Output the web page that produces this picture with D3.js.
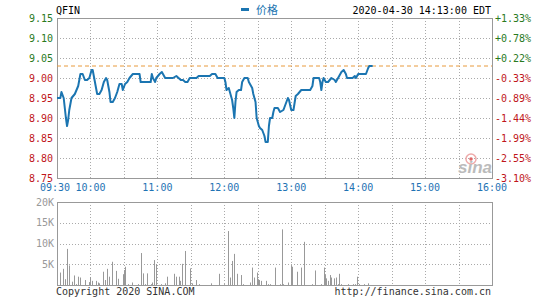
<!DOCTYPE html>
<html>
<head>
<meta charset="utf-8">
<script src="https://cdn.jsdelivr.net/npm/d3@7/dist/d3.min.js"></script>
<style>
  body { margin: 0; background: #fff; }
  text { font-family: "DejaVu Sans Mono", "Liberation Mono", monospace; font-size: 10px; }
  .grid line { stroke: #aaa; stroke-dasharray: 1,2; }
</style>
</head>
<body>
<script>
// ---- data ----
var symbol = "QFIN";
var stamp = "2020-04-30 14:13:00 EDT";
var prevClose = 9.03;
var priceTicks = [9.15, 9.10, 9.05, 9.00, 8.95, 8.90, 8.85, 8.80, 8.75];
var pctLabels = ["+1.33%", "+0.78%", "+0.22%", "-0.33%", "-0.89%", "-1.44%", "-1.99%", "-2.55%", "-3.10%"];
var timeTicks = [0, 30, 90, 150, 210, 270, 330, 390];
var timeLabels = ["09:30", "10:00", "11:00", "12:00", "13:00", "14:00", "15:00", "16:00"];
var volTicks = [20000, 15000, 10000, 5000];
var volLabels = ["20K", "15K", "10K", "5K"];

// minutes after 09:30 and price
var priceMin = [0,3,4,6,8,9,10,11,13,16,19,21,23,25,27,29,31,32,33,35,36,38,40,42,44,45,47,48,50,52,54,56,58,59,61,63,65,68,72,74,75,80,84,85,86,88,89,92,94,96,97,104,107,109,111,113,115,117,119,125,127,137,139,142,144,150,151,152,154,155,157,158,159,160,161,163,165,166,168,171,172,175,176,178,179,181,182,184,186,187,189,190,191,193,194,195,198,200,203,205,207,208,210,212,214,216,219,227,229,230,235,236,237,238,239,241,243,246,249,250,252,255,257,259,260,265,267,268,270,277,279,280,283];
var priceVal = [8.95,8.95,8.965,8.95,8.90,8.88,8.895,8.92,8.95,8.96,8.98,9.01,9.01,8.995,8.995,9.00,9.02,9.02,9.005,8.975,8.96,8.96,8.97,8.99,9.00,8.995,8.965,8.94,8.94,8.95,8.965,8.985,8.985,8.97,8.985,8.99,9.00,9.01,9.01,9.01,8.99,8.99,8.99,9.01,9.00,8.99,9.00,9.01,9.015,9.005,9.00,9.00,9.005,9.00,8.995,8.995,8.99,8.99,9.00,9.00,9.005,9.005,9.01,9.01,9.00,9.00,8.99,8.97,8.975,8.965,8.945,8.925,8.90,8.94,8.965,8.97,8.97,8.99,9.00,9.00,8.99,8.975,8.96,8.94,8.90,8.88,8.875,8.87,8.855,8.84,8.84,8.88,8.90,8.90,8.915,8.925,8.925,8.915,8.92,8.935,8.95,8.945,8.92,8.92,8.955,8.96,8.97,8.97,8.98,9.00,9.00,8.99,8.97,8.99,9.00,8.99,8.99,9.00,8.995,8.99,9.00,9.015,9.02,9.01,9.00,9.00,9.005,9.00,9.01,9.01,9.025,9.03,9.03];

var volMin = [0,3,5,7,9,11,13,15,17,19,21,25,29,30,31,35,37,38,41,43,45,47,49,53,55,59,60,61,64,67,73,75,77,79,81,84,85,87,89,93,97,99,105,107,109,110,112,115,119,121,125,127,138,145,150,153,155,157,159,161,165,167,173,175,177,179,180,181,183,187,189,191,195,200,202,203,207,210,211,215,219,221,229,231,237,239,240,241,243,245,246,248,250,252,253,255,261,265,267,269,271,275,279];
var volVal = [4200,3000,3900,1400,8700,4700,800,2300,200,2000,1800,1200,700,1900,1000,1000,600,400,3200,1200,3900,2000,5600,3400,1500,2600,3600,4400,200,600,200,7700,2800,200,2800,200,600,6000,5000,200,400,2000,2700,2000,2000,1000,5100,8200,4000,400,1200,200,400,2700,200,13000,1800,5800,7500,2700,2400,200,600,4200,1800,3000,1400,1200,1000,1000,200,200,4200,200,13400,200,600,4700,4400,3200,4200,10400,200,3500,200,4200,2400,1600,1000,2400,1800,1600,1800,200,2700,200,200,200,200,2000,200,200,400];

// ---- layout ----
var W = 545, H = 300;
var left = 57, right = 492;
var pTop = 18, pBot = 178;
var vTop = 202, vBot = 285;

var svg = d3.select("body").append("svg")
    .attr("width", W)
    .attr("height", H);

var x = d3.scaleLinear().domain([0, 390]).range([left, right]);
var y = d3.scaleLinear().domain([8.75, 9.15]).range([pBot, pTop]);
var yv = d3.scaleLinear().domain([0, 20000]).range([vBot, vTop]);

var halfHours = d3.range(30, 390, 30);

// price grid
var g1 = svg.append("g").attr("class", "grid");
g1.selectAll(".vx").data(halfHours).enter().append("line")
    .attr("x1", function(d) { return Math.round(x(d)) + 0.5; })
    .attr("x2", function(d) { return Math.round(x(d)) + 0.5; })
    .attr("y1", pTop).attr("y2", pBot);
g1.selectAll(".hy").data(priceTicks.slice(1, -1)).enter().append("line")
    .attr("x1", left).attr("x2", right)
    .attr("y1", function(d) { return Math.round(y(d)) + 0.5; })
    .attr("y2", function(d) { return Math.round(y(d)) + 0.5; });

// volume grid
var g2 = svg.append("g").attr("class", "grid");
g2.selectAll(".vx").data(halfHours).enter().append("line")
    .attr("x1", function(d) { return Math.round(x(d)) + 0.5; })
    .attr("x2", function(d) { return Math.round(x(d)) + 0.5; })
    .attr("y1", vTop).attr("y2", vBot);
g2.selectAll(".hy").data(volTicks.slice(1)).enter().append("line")
    .attr("x1", left).attr("x2", right)
    .attr("y1", function(d) { return Math.round(yv(d)) + 0.5; })
    .attr("y2", function(d) { return Math.round(yv(d)) + 0.5; });

// frames
svg.append("rect").attr("x", left + 0.5).attr("y", pTop + 0.5)
    .attr("width", right - left).attr("height", pBot - pTop)
    .attr("fill", "none").attr("stroke", "#999");
svg.append("rect").attr("x", left + 0.5).attr("y", vTop + 0.5)
    .attr("width", right - left).attr("height", vBot - vTop)
    .attr("fill", "none").attr("stroke", "#999");

// watermark
svg.append("circle").attr("cx", 471).attr("cy", 159).attr("r", 5)
    .attr("fill", "none").attr("stroke", "#eaa").attr("stroke-width", 1.5);
svg.append("circle").attr("cx", 471).attr("cy", 159).attr("r", 1.8).attr("fill", "#d66");
svg.append("text").attr("x", 475).attr("y", 173)
    .attr("text-anchor", "middle")
    .style("font-family", "Arial, 'Liberation Sans', sans-serif")
    .style("font-size", "17px").style("font-style", "italic").style("font-weight", "bold")
    .attr("fill", "#bbb").text("sina");

// prev close
svg.append("line")
    .attr("x1", left).attr("x2", right)
    .attr("y1", y(prevClose)).attr("y2", y(prevClose))
    .attr("stroke", "#e89a3c").attr("stroke-dasharray", "4,3");

// price line
var pts = priceMin.map(function(m, i) { return [m, priceVal[i]]; });
svg.append("path")
    .datum(pts)
    .attr("fill", "none")
    .attr("stroke", "#1b75b1")
    .attr("stroke-width", 2)
    .attr("stroke-linejoin", "round")
    .attr("d", d3.line()
        .x(function(d) { return x(d[0]); })
        .y(function(d) { return y(d[1]); }));

// volume bars
svg.selectAll(".bar").data(volMin).enter().append("line")
    .attr("x1", function(d) { return Math.round(x(d)) + 0.5; })
    .attr("x2", function(d) { return Math.round(x(d)) + 0.5; })
    .attr("y1", vBot)
    .attr("y2", function(d, i) { return yv(volVal[i]); })
    .attr("stroke", "#999");

// left price labels
svg.selectAll(".pl").data(priceTicks).enter().append("text")
    .attr("x", 53).attr("y", function(d) { return y(d); })
    .attr("dy", "0.35em").attr("text-anchor", "end")
    .attr("fill", function(d) { return d > prevClose ? "#2a7a1e" : "#c0161b"; })
    .text(function(d) { return d.toFixed(2); });

// right percent labels
svg.selectAll(".pr").data(pctLabels).enter().append("text")
    .attr("x", 495).attr("y", function(d, i) { return y(priceTicks[i]); })
    .attr("dy", "0.35em")
    .attr("fill", function(d) { return d[0] === "+" ? "#2a7a1e" : "#c0161b"; })
    .text(function(d) { return d; });

// time labels
svg.selectAll(".tl").data(timeTicks).enter().append("text")
    .attr("x", function(d) { return d === 0 ? x(d) - 2 : x(d); })
    .attr("y", 191)
    .attr("text-anchor", "middle")
    .attr("fill", "#1f73b4")
    .text(function(d, i) { return timeLabels[i]; });

// volume labels
svg.selectAll(".vl").data(volTicks).enter().append("text")
    .attr("x", 54).attr("y", function(d) { return yv(d); })
    .attr("dy", "0.35em").attr("text-anchor", "end")
    .attr("fill", "#999")
    .text(function(d, i) { return volLabels[i]; });

// header
svg.append("text").attr("x", 56).attr("y", 14).attr("fill", "#000").text(symbol);
svg.append("rect").attr("x", 241).attr("y", 8).attr("width", 8).attr("height", 3).attr("fill", "#1b75b1");
svg.append("text").attr("x", 256).attr("y", 14).attr("fill", "#1b75b1")
    .style("font-family", "'Noto Sans CJK SC', sans-serif").style("font-size", "11px").text("价格");
svg.append("text").attr("x", 491).attr("y", 14).attr("text-anchor", "end").attr("fill", "#000").text(stamp);

// footer
svg.append("text").attr("x", 56).attr("y", 295).attr("fill", "#333").text("Copyright 2020 SINA.COM");
svg.append("text").attr("x", 491).attr("y", 295).attr("text-anchor", "end").attr("fill", "#333").text("http://finance.sina.com.cn");
</script>
</body>
</html>
